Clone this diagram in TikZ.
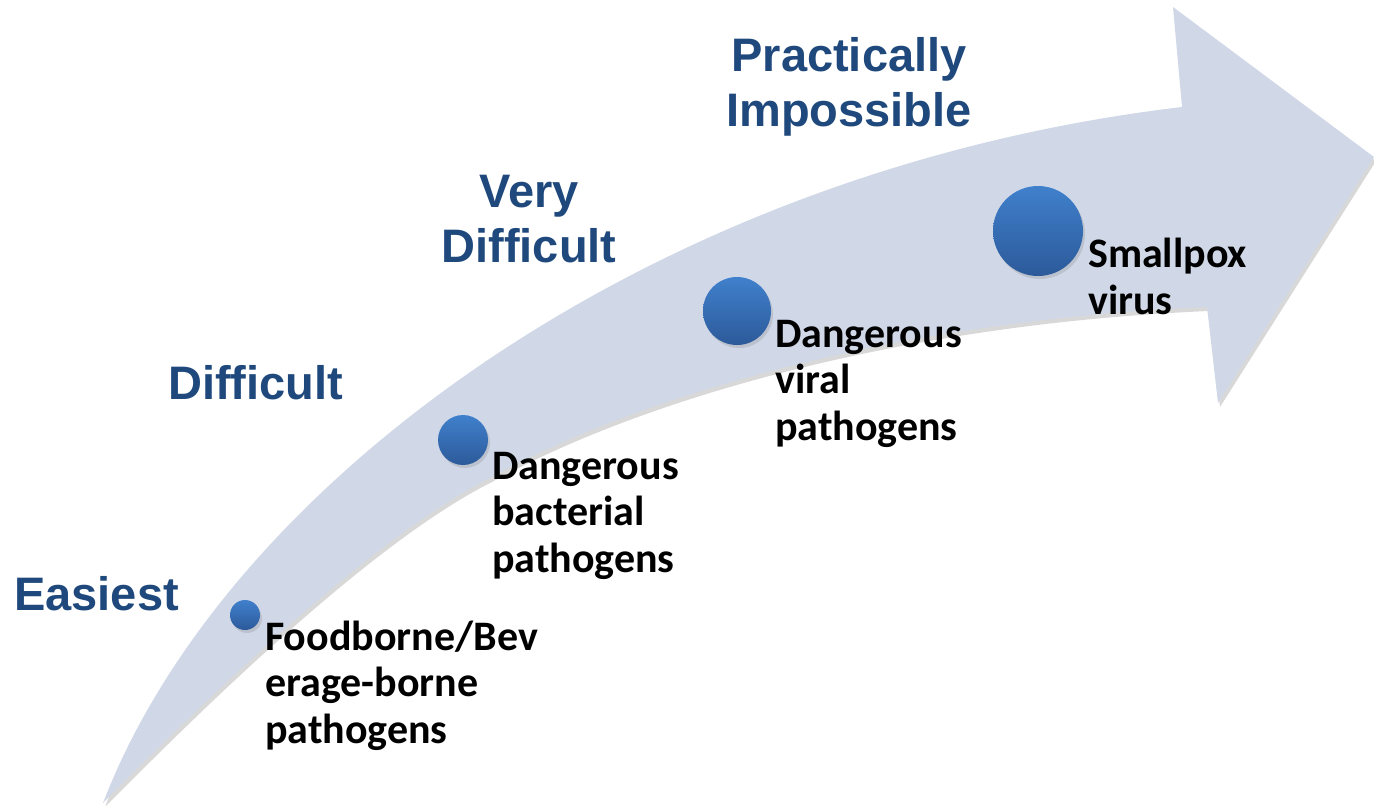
\documentclass[tikz,border=0pt]{standalone}
\usepackage{fontspec}
\usepackage{tikz}
\usetikzlibrary{shadows}
\newfontfamily\headfont{Liberation Sans}
\newfontfamily\lblfont{Carlito}
\definecolor{arrowfill}{RGB}{208,216,232}
\definecolor{headblue}{RGB}{31,73,125}
\definecolor{dotlight}{RGB}{64,128,204}
\definecolor{dotdark}{RGB}{44,90,154}

\begin{document}
\begin{tikzpicture}[x=1pt, y=-1pt,
      dot/.style={circle, inner sep=0pt, top color=dotlight, bottom color=dotdark,
                  draw=none, drop shadow={shadow xshift=2pt, shadow yshift=-3pt, opacity=0.25}},
      head/.style={text=headblue, align=center, inner sep=0pt,
                   font=\headfont\bfseries\fontsize{47}{55}\selectfont},
      lbl/.style={text=black, align=left, inner sep=0pt, anchor=base west,
                  font=\lblfont\bfseries\fontsize{42}{46.5}\selectfont},
    ]
    \useasboundingbox (0,0) rectangle (1374,806);
    \fill[white] (0,0) rectangle (1374,806);
    % curved arrow (base = last line, so labels sit on their last line)
    \fill[arrowfill, drop shadow={shadow xshift=2pt, shadow yshift=-4pt, opacity=0.3}]
      (103,803) .. controls (225,485) and (650,170) .. (1182,107)
      -- (1173,7) -- (1374,157) -- (1218,403) -- (1207,307)
      .. controls (900,320) and (640,395) .. (490,478)
      .. controls (370,538) and (200,705) .. (103,803) -- cycle;
    % steps
    \node[dot, minimum size=30pt] (food) at (245,615) {};
    \node[dot, minimum size=50pt] (bact) at (463,440) {};
    \node[dot, minimum size=68pt] (viral) at (737,311) {};
    \node[dot, minimum size=90pt] (pox) at (1038,231) {};
    \node[lbl] (lfood) at (265,743) {Foodborne/Bev\\erage-borne\\pathogens};
    \node[lbl] (lbact) at (492,572) {Dangerous\\bacterial\\pathogens};
    \node[lbl] (lviral) at (775,440) {Dangerous\\viral\\pathogens};
    \node[lbl] (lpox) at (1088,314) {Smallpox\\virus};
    % difficulty levels
    \node[head, anchor=base west] (easiest) at (14,610) {Easiest};
    \node[head, anchor=base west] (difficult) at (168,399) {Difficult};
    \node[head, anchor=base] (vdifficult) at (529,262) {Very\\Difficult};
    \node[head, anchor=base] (impossible) at (849,126) {Practically\\Impossible};
  \end{tikzpicture}
\end{document}
